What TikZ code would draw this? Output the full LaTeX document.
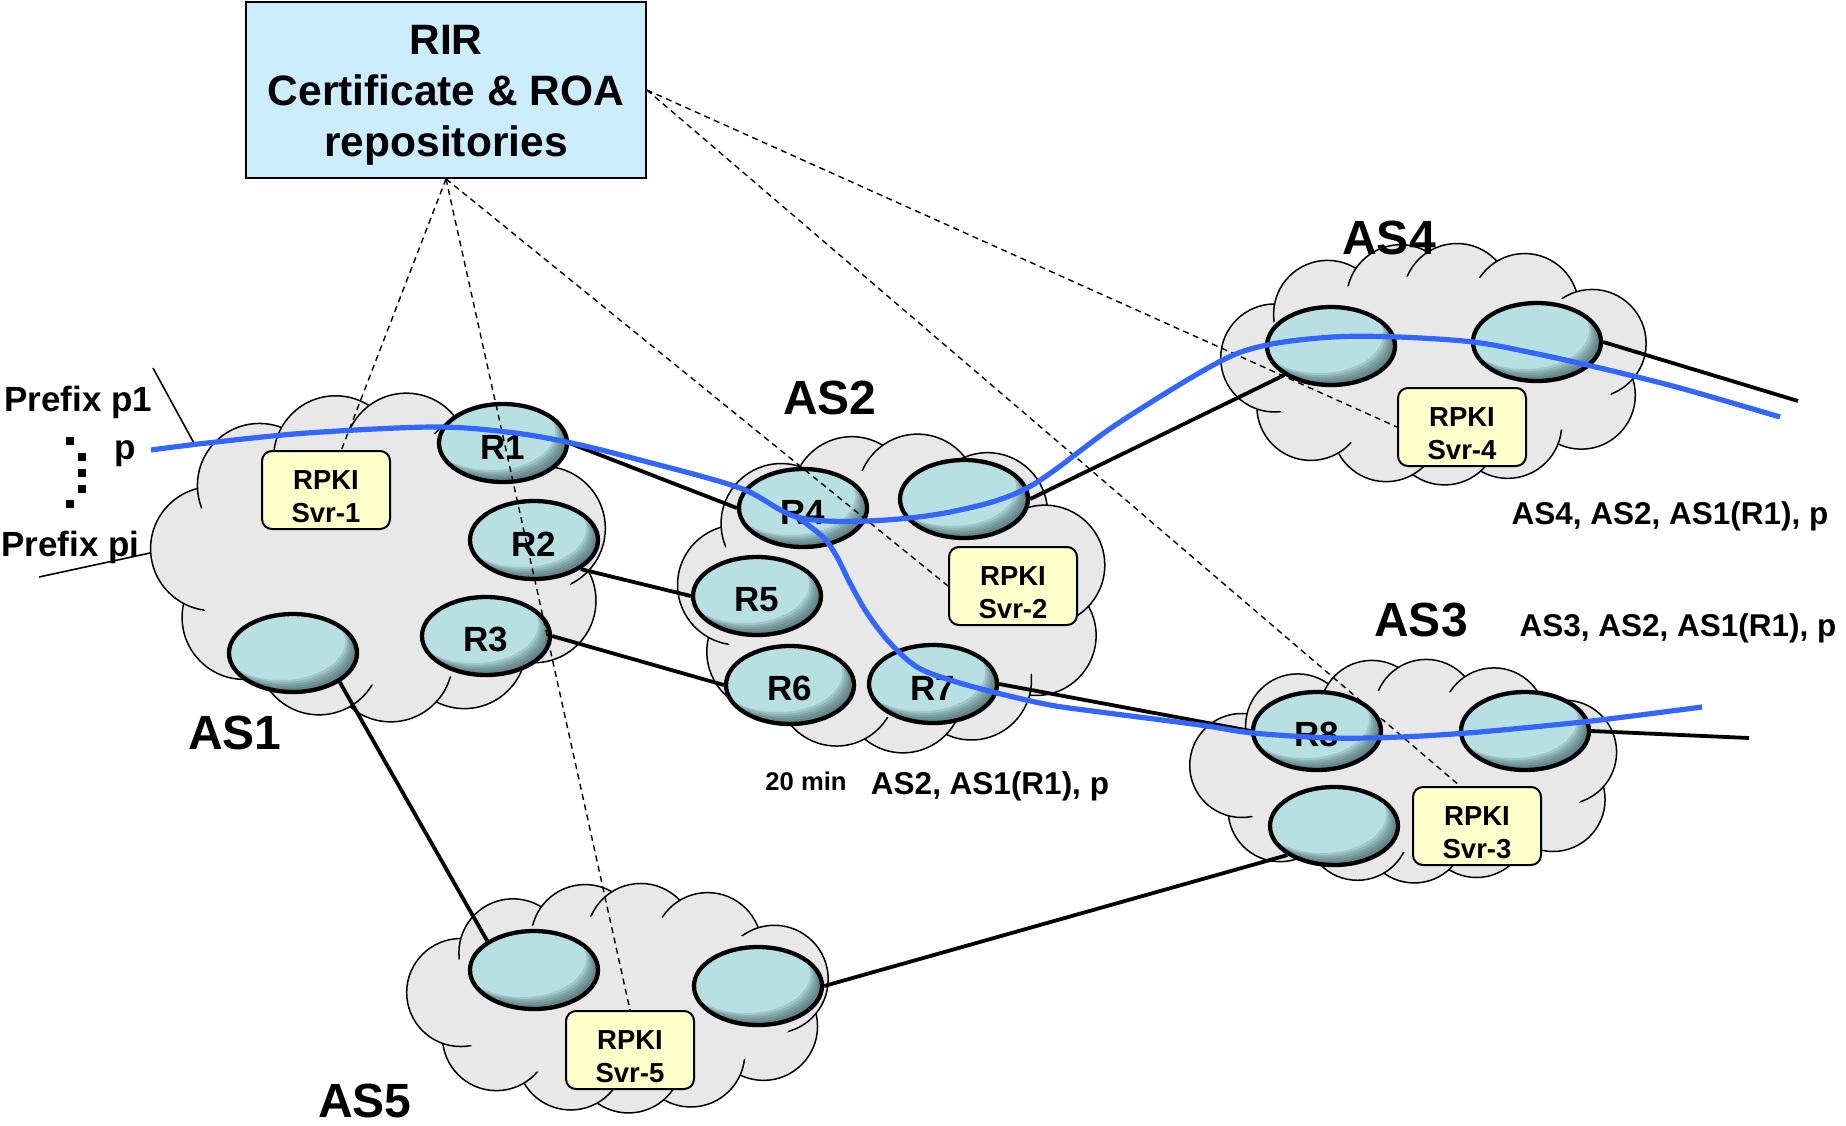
\documentclass[tikz,border=0pt]{standalone}
\usepackage{fontspec}
\setmainfont{Liberation Sans}
\usetikzlibrary{shapes.geometric}

\definecolor{cloudgray}{HTML}{E8E8E8}
\definecolor{routerfill}{HTML}{B8E0E3}
\definecolor{routerdark}{HTML}{2E4A4C}
\definecolor{rpkifill}{HTML}{FFFFCC}
\definecolor{rirfill}{HTML}{CCECFF}
\definecolor{pathblue}{HTML}{3366FF}

% cloud of puffs: centre x, centre y, half width, half height, puff radius, spread
\newcommand\ascloud[6]{%
  \foreach \u in {0,...,10}{
    \pgfmathsetmacro\t{\u*360/11+20+#6*sin(2*(\u*360/11+20))}
    \filldraw[cloudline] ({#1+(#3-#5)*cos(\t)},{#2+(#4-#5)*sin(\t)}) circle[radius=#5pt];
  }
  \fill[cloudgray] (#1,#2) ellipse[x radius={#3pt-.6*#5pt},y radius={#4pt-.6*#5pt}];
}

\tikzset{
  cloudline/.style={draw=black,fill=cloudgray,line width=1.5pt},
  rim shadow/.style={path picture={
    \foreach \s in {2,4,...,12}
      \fill[routerdark,opacity=.16,even odd rule]
        ([shift={(-20pt,20pt)}]path picture bounding box.north west) rectangle ([shift={(20pt,-20pt)}]path picture bounding box.south east)
        ([shift={(-\s pt,\s pt)}]path picture bounding box.center) ellipse[x radius=64pt,y radius=39pt];}},
  router/.style={ellipse,draw,line width=4.3pt,fill=routerfill,rim shadow,minimum width=128pt,minimum height=78pt,inner sep=0pt,text height=32pt,font=\fontsize{35}{40}\selectfont\bfseries},
  rpki/.style={rectangle,rounded corners=10pt,draw,line width=2pt,fill=rpkifill,minimum width=128pt,minimum height=78pt,inner sep=0pt},
  rpkitext/.style={inner sep=0pt,align=center,font=\fontsize{27.5}{33}\selectfont\bfseries},
  rir/.style={rectangle,draw,line width=1.8pt,fill=rirfill,minimum width=400pt,minimum height=176pt,inner sep=0pt},
  rirtext/.style={inner sep=0pt,align=center,font=\fontsize{42.5}{51}\selectfont\bfseries},
  aslabel/.style={inner sep=0pt,font=\fontsize{48}{52}\selectfont\bfseries},
  txt/.style={inner sep=0pt,font=\fontsize{35}{40}\selectfont\bfseries},
  pathtxt/.style={inner sep=0pt,font=\fontsize{31.5}{36}\selectfont\bfseries},
  smalltxt/.style={inner sep=0pt,font=\fontsize{25.6}{30}\selectfont\bfseries},
  link/.style={line width=3.8pt},
  thin link/.style={line width=1.6pt},
  fetch/.style={line width=1.4pt,dash pattern=on 6pt off 4.5pt},
  bgp/.style={pathblue,line width=5.2pt}
}

\begin{document}
\begin{tikzpicture}[x=1pt,y=-1pt]
\useasboundingbox (0,0) rectangle (1846,1125);
% autonomous systems
\ascloud{381}{557}{231}{165}{62}{8}
\ascloud{894}{593}{217}{160}{60}{8}
\ascloud{1437}{364}{217}{121}{54}{12}
\ascloud{1407}{771}{218}{112}{52}{13}
\ascloud{621}{998}{215}{115}{54}{12}
% routers
\node[router] (r1) at (503,443) {R1};
\node[router] (r2) at (534,540) {R2};
\node[router] (r3) at (486,636) {R3};
\node[router] (a1) at (293,653) {};
\node[router] (r4) at (803,508) {R4};
\node[router] (a2) at (964,499) {};
\node[router] (r5) at (757,596) {R5};
\node[router] (r6) at (790,685) {R6};
\node[router] (r7) at (933,684) {R7};
\node[router] (a4l) at (1331,346) {};
\node[router] (a4r) at (1537,342) {};
\node[router] (r8) at (1317,731) {R8};
\node[router] (a3r) at (1525,731) {};
\node[router] (a3b) at (1334,826) {};
\node[router] (a5l) at (534,970) {};
\node[router] (a5r) at (758,986) {};
% validators and repository
\node[rpki] (svr1) at (326,490) {};
\node[rpki] (svr2) at (1013,586) {};
\node[rpki] (svr3) at (1477,826) {};
\node[rpki] (svr4) at (1462,427) {};
\node[rpki] (svr5) at (630,1050) {};
\node[rpkitext] (svr1t) at ([yshift=-7pt]svr1) {RPKI\\Svr-1};
\node[rpkitext] (svr2t) at ([yshift=-7pt]svr2) {RPKI\\Svr-2};
\node[rpkitext] (svr3t) at ([yshift=-7pt]svr3) {RPKI\\Svr-3};
\node[rpkitext] (svr4t) at ([yshift=-7pt]svr4) {RPKI\\Svr-4};
\node[rpkitext] (svr5t) at ([yshift=-7pt]svr5) {RPKI\\Svr-5};
\node[rir] (rir) at (446,90) {};
\node[rirtext] (rirt) at ([yshift=-5pt]rir) {RIR\\Certificate \& ROA\\repositories};
% labels
\node[aslabel] (l1) at (235,733) {AS1};
\node[aslabel] (l2) at (830,398) {AS2};
\node[aslabel] (l3) at (1421,620) {AS3};
\node[aslabel] (l4) at (1389,238) {AS4};
\node[aslabel] (l5) at (365,1101) {AS5};
\node[txt,anchor=west] (pre1) at (4,402) {Prefix p1};
\node[txt,anchor=west] (prei) at (1,547) {Prefix pi};
\node[txt] (pp) at (125,454) {p};
\node[pathtxt] (path4) at (1670,516) {AS4, AS2, AS1(R1), p};
\node[pathtxt] (path3) at (1678,628) {AS3, AS2, AS1(R1), p};
\node[pathtxt] (path2) at (990,786) {AS2, AS1(R1), p};
\node[smalltxt] (tmin) at (806,781) {20 min};
\foreach \x/\y in {70/441,82/457,82/473,82/489,70/504}
  \fill (\x-4,\y-4) rectangle ++(8,8);
% free ends
\coordinate (p1a) at (153,368);\coordinate (p1b) at (195,445);
\coordinate (pia) at (39,577);\coordinate (pib) at (150,553);
\coordinate (e4) at (1798,401);\coordinate (e3) at (1749,738);
% links
\draw[thin link] (p1a) -- (p1b);
\draw[thin link] (pia) -- (pib);
\draw[link] (r1.east) -- (r4.west);
\draw[link] (r2.south east) -- (r5.west);
\draw[link] (r3.east) -- (r6.west);
\draw[link] (r7.east) -- (r8.west);
\draw[link] (a2.east) -- (a4l.south west);
\draw[link] (a1.south east) -- (a5l.north west);
\draw[link] (a5r.east) -- (a3b.south west);
\draw[link] (a4r.east) -- (e4);
\draw[link] (a3r.east) -- (e3);
% repository fetches
\draw[fetch] (rir.south) -- (svr1);
\draw[fetch] (rir.south) -- (svr5.north);
\draw[fetch] (rir.south) -- (svr2.west);
\draw[fetch] (rir.east) -- (svr4.west);
\draw[fetch] (rir.east) -- ([xshift=-17pt]svr3.north);
% announcement of p
\draw[bgp] plot[smooth,tension=.55] coordinates {(151,450) (207,443) (307,433) (433,427) (507,432) (567,442) (640,460) (740,488) (797,517) (867,521) (950,512) (1027,488) (1117,424) (1217,363) (1267,345) (1333,337) (1398,337) (1473,342) (1533,353) (1600,368) (1680,388) (1780,417)};
\draw[bgp] plot[smooth,tension=.55] coordinates {(797,517) (823,537) (837,557) (850,583) (867,613) (890,643) (917,667) (950,680) (997,693) (1050,705) (1100,712) (1200,725) (1253,733) (1333,738) (1400,737) (1467,733) (1533,727) (1600,720) (1702,707)};
\end{tikzpicture}
\end{document}
